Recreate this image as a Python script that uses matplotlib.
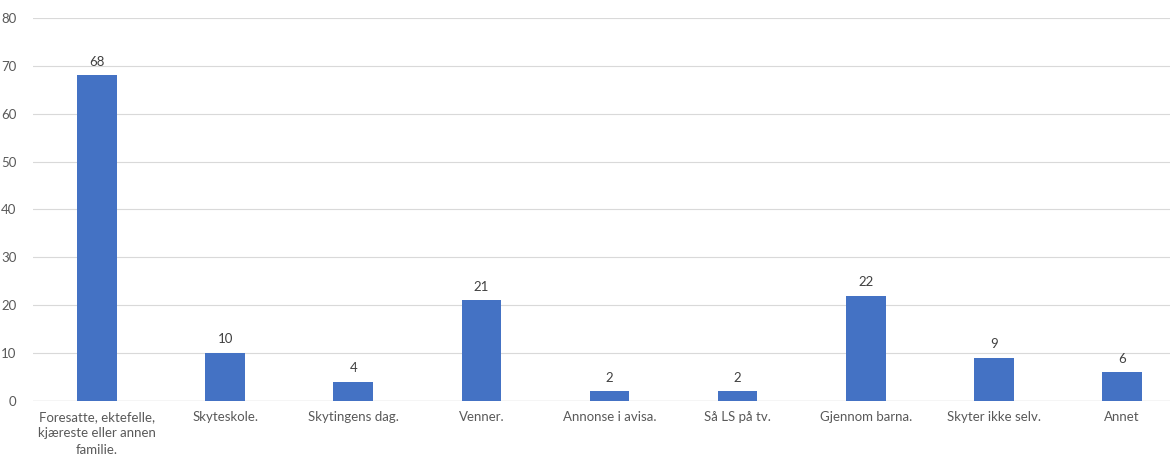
import matplotlib.pyplot as plt
import numpy as np

categories = ['Foresatte, ektefelle,\nkjæreste eller annen\nfamilie.', 'Skyteskole.', 'Skytingens dag.',
              'Venner.', 'Annonse i avisa.', 'Så LS på tv.', 'Gjennom barna.', 'Skyter ikke selv.', 'Annet']
values = [68, 10, 4, 21, 2, 2, 22, 9, 6]
yticks = [0, 10, 20, 30, 40, 50, 60, 70, 80]

plt.rcParams['font.family'] = ['Lato', 'DejaVu Sans']

fig = plt.figure(figsize=(11.7, 4.59), dpi=100)
ax = fig.add_axes([33 / 1170, 1 - 401 / 459, 1153 / 1170, (401 - 18) / 459])

x = np.arange(len(categories))
ax.bar(x, values, width=0.31, color='#4472C4', zorder=3)
for xi, v in zip(x, values):
    ax.text(xi, v + 1.6, str(v), ha='center', va='bottom', fontsize=9.5, color='#404040')

ax.set_xlim(-0.5, len(categories) - 0.5)
ax.set_ylim(0, 80)
ax.set_yticks(yticks)
ax.set_xticks(x)
ax.set_xticklabels(categories, fontsize=9.5, color='#595959', linespacing=1.45)
ax.tick_params(axis='y', labelsize=9.5, labelcolor='#595959', length=0, pad=12)
ax.tick_params(axis='x', length=0, pad=7)
ax.grid(True, axis='y', color='#d9d9d9', linewidth=0.8, zorder=0)
for s in ax.spines.values():
    s.set_visible(False)
ax.axhline(0, color='#d9d9d9', linewidth=1, zorder=2)

fig.savefig('out.png', dpi=100)
